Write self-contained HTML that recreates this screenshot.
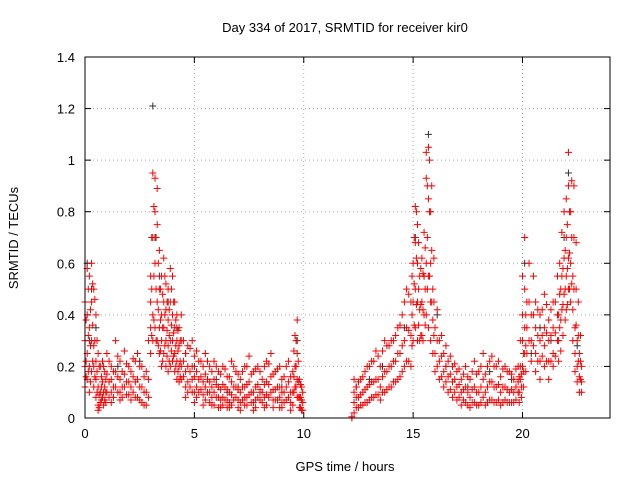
<!DOCTYPE html>
<html><head><meta charset="utf-8"><style>
body{margin:0;background:#fff;}
svg{display:block;font-family:"Liberation Sans",sans-serif;}
</style></head><body>
<svg id="chart" width="640" height="480">
<text x="345" y="32" font-size="13" text-anchor="middle">Day 334 of 2017, SRMTID for receiver kir0</text>
<text x="345" y="471" font-size="13" text-anchor="middle">GPS time / hours</text>
<text x="18" y="238" font-size="13" text-anchor="middle" transform="rotate(-90 18 238)">SRMTID / TECUs</text>
<g id="grid"></g><g id="ticks"></g><g id="black"></g><g id="red"></g>
<rect x="85" y="57" width="525" height="361" fill="none" stroke="#000"/>
</svg>
<script>
const xTicks=[0,5,10,15,20];
const yTicks=[0,0.2,0.4,0.6,0.8,1,1.2,1.4];
const yTickLabels=["0","0.2","0.4","0.6","0.8","1","1.2","1.4"];
const redT=[0,0.1,0.2,0.3,0.4,0.5,0.6,0.7,0.8,0.9,1.0,1.2,1.4,1.6,1.8,2.0,2.2,2.4,2.6,2.8,2.9,3.0,3.1,3.2,3.3,3.4,3.5,3.6,3.7,3.8,3.9,4.0,4.1,4.2,4.3,4.4,4.5,4.7,4.9,5.1,5.3,5.5,5.7,5.9,6.1,6.3,6.5,6.7,6.9,7.1,7.3,7.5,7.7,7.9,8.1,8.3,8.5,8.7,8.9,9.1,9.3,9.5,9.6,9.7,9.8,9.9,12.2,12.3,12.5,12.7,12.9,13.1,13.3,13.5,13.7,13.9,14.1,14.3,14.5,14.7,14.9,15.0,15.1,15.2,15.3,15.4,15.5,15.6,15.7,15.8,15.9,16.0,16.2,16.4,16.6,16.8,17.0,17.2,17.4,17.6,17.8,18.0,18.2,18.4,18.6,18.8,19.0,19.2,19.4,19.6,19.8,19.9,20.0,20.1,20.2,20.4,20.6,20.8,21.0,21.2,21.4,21.6,21.7,21.8,21.9,22.0,22.1,22.2,22.3,22.4,22.5,22.6,22.7];
const redV=[[.45,.3,.2,.12],[.58,.4,.25,.15],[.55,.35,.2,.1],[.6,.45,.3,.18],[.5,.28,.2,.12],[.4,.22,.15,.08],[.25,.12,.05,.03],[.2,.1,.06],[.22,.14,.08],[.18,.12,.07],[.25,.17,.1],[.2,.15,.1,.06],[.3,.18,.12],[.22,.15,.1,.07],[.26,.17,.12],[.2,.14,.09],[.23,.16,.1],[.25,.15,.08],[.2,.12,.06],[.18,.1,.05],[.3,.15,.08],[.55,.45,.35,.25],[.95,.7,.4,.3],[.93,.8,.6,.35],[.89,.75,.45,.3],[.65,.5,.35,.25],[.55,.4,.3,.2],[.62,.45,.35,.25],[.52,.42,.3,.2],[.5,.38,.28,.18],[.58,.45,.3,.2],[.55,.4,.3,.22],[.45,.35,.25,.18],[.4,.3,.22,.15],[.35,.28,.2,.14],[.4,.3,.2,.15],[.3,.22,.16],[.28,.2,.14,.1],[.3,.2,.15,.1],[.26,.18,.12,.08],[.22,.16,.11],[.25,.17,.12,.07],[.2,.14,.1,.06],[.22,.15,.1,.05],[.18,.12,.08,.04],[.2,.13,.08,.05],[.16,.11,.07,.04],[.22,.14,.09,.05],[.18,.12,.08],[.15,.1,.06,.03],[.2,.12,.08,.05],[.24,.14,.09],[.18,.1,.06,.03],[.2,.13,.08],[.15,.1,.06],[.22,.14,.09,.05],[.25,.16,.1],[.18,.11,.07],[.2,.12,.08,.04],[.16,.1,.06],[.22,.14,.08],[.18,.1,.05],[.32,.2,.12],[.38,.25,.15,.08],[.15,.08,.04],[.12,.07,.03],[0,0.005],[.15,.1,.06,.02],[.14,.08,.04],[.16,.1,.05],[.2,.12,.06],[.22,.14,.08],[.26,.15,.09],[.2,.12,.07],[.3,.18,.1],[.28,.2,.12],[.3,.22,.14],[.35,.25,.15],[.4,.28,.18],[.5,.35,.22],[.45,.32,.2],[.6,.45,.3],[.82,.68,.5,.35],[.75,.6,.45,.3],[.55,.42,.3],[.62,.45,.32],[.72,.55,.4],[1.03,.93,.6,.4],[1.05,.85,.55,.35],[.8,.6,.45,.3],[.5,.38,.25],[.35,.25,.18],[.3,.22,.15],[.25,.18,.12],[.22,.16,.1],[.2,.14,.08],[.18,.12,.07],[.15,.1,.05],[.2,.12,.06],[.15,.08,.04],[.22,.12,.06],[.18,.1,.05],[.25,.15,.08],[.2,.12,.06],[.24,.14,.07],[.2,.12,.06],[.16,.1,.05],[.2,.12,.07],[.18,.1,.06],[.15,.1,.06],[.2,.14,.1],[.3,.2,.15],[.55,.4,.3,.2],[.7,.5,.35,.25],[.45,.35,.25],[.4,.3,.22],[.45,.35,.25,.18],[.4,.3,.22,.15],[.48,.35,.28,.2],[.38,.3,.22,.15],[.45,.35,.25,.2],[.55,.4,.3],[.6,.48,.35],[.72,.55,.42],[.8,.62,.48],[.85,.7,.55,.42],[1.03,.9,.62,.5],[.8,.6,.45],[.55,.42,.3],[.35,.25,.18],[.3,.2,.14],[.25,.16,.1],[.2,.14,.1]];
const redT2=[0.05,0.15,0.25,0.35,0.45,0.55,0.65,0.75,0.85,0.95,1.1,1.3,1.5,1.7,1.9,2.1,2.3,2.5,2.7,3.05,3.15,3.25,3.35,3.45,3.55,3.65,3.75,3.85,3.95,4.05,4.15,4.25,4.35,4.6,4.8,5.0,5.2,5.4,5.6,5.8,6.0,6.2,6.4,6.6,6.8,7.0,7.2,7.4,7.6,7.8,8.0,8.2,8.4,8.6,8.8,9.0,9.2,9.4,9.55,9.65,9.75,9.85,9.95,12.4,12.6,12.8,13.0,13.2,13.4,13.6,13.8,14.0,14.2,14.4,14.6,14.8,14.95,15.05,15.15,15.25,15.35,15.45,15.55,15.65,15.75,15.85,15.95,16.1,16.3,16.5,16.7,16.9,17.1,17.3,17.5,17.7,17.9,18.1,18.3,18.5,18.7,18.9,19.1,19.3,19.5,19.7,19.85,19.95,20.05,20.15,20.3,20.5,20.7,20.9,21.1,21.3,21.5,21.65,21.75,21.85,21.95,22.05,22.15,22.25,22.35,22.45,22.55,22.65];
const redV2=[[.38,.22,.16],[.5,.32,.18],[.42,.28,.14],[.52,.36,.22],[.46,.3,.16],[.3,.18,.1],[.2,.09,.04],[.16,.12,.07],[.2,.1,.05],[.15,.1,.06],[.22,.14,.08],[.18,.12,.08],[.24,.16,.1],[.18,.12,.08],[.21,.14,.09],[.18,.12,.07],[.22,.14,.08],[.2,.12,.07],[.16,.1,.05],[.7,.5,.32],[.82,.55,.38],[.7,.5,.3],[.6,.42,.28],[.5,.38,.26],[.48,.35,.22],[.55,.4,.28],[.45,.34,.24],[.42,.32,.22],[.5,.36,.26],[.45,.33,.24],[.38,.28,.2],[.34,.26,.18],[.3,.22,.16],[.25,.18,.12,.08],[.27,.18,.12],[.24,.16,.1,.06],[.22,.15,.1],[.2,.14,.09,.05],[.22,.15,.1],[.18,.12,.08,.05],[.2,.13,.08],[.17,.11,.07,.04],[.19,.12,.07],[.16,.1,.06,.04],[.2,.12,.07],[.17,.11,.07,.04],[.18,.12,.07],[.2,.13,.08,.05],[.17,.1,.06],[.19,.12,.07,.04],[.18,.11,.07],[.2,.13,.08,.04],[.21,.13,.08],[.17,.11,.07,.04],[.19,.12,.07],[.15,.1,.06,.04],[.2,.12,.07],[.16,.1,.06,.03],[.26,.16,.1],[.3,.2,.12],[.22,.14,.08],[.13,.08,.04],[.1,.06,.03],[.12,.08,.04],[.15,.09,.05],[.18,.11,.06],[.2,.13,.07],[.22,.14,.08],[.24,.15,.09],[.26,.16,.1],[.28,.18,.11],[.3,.2,.12],[.32,.22,.14],[.36,.25,.16],[.45,.3,.2],[.48,.34,.22],[.55,.4,.28],[.7,.52,.36],[.8,.62,.44],[.68,.5,.36],[.58,.44,.32],[.56,.42,.3],[.66,.5,.36],[.9,.7,.5],[1.0,.8,.55],[.9,.65,.45],[.62,.45,.32],[.42,.3,.2],[.32,.24,.16],[.28,.2,.14],[.24,.17,.11],[.21,.15,.1],[.19,.13,.08],[.17,.11,.07],[.16,.1,.05],[.18,.11,.06],[.17,.1,.05],[.2,.12,.06],[.17,.1,.05],[.22,.14,.07],[.2,.12,.06],[.22,.13,.07],[.19,.12,.06],[.18,.11,.06],[.17,.11,.06],[.19,.12,.07],[.16,.1,.06],[.17,.12,.08],[.25,.18,.12],[.4,.28,.18],[.6,.45,.3],[.55,.4,.28],[.42,.32,.22],[.42,.32,.24],[.44,.33,.22],[.42,.32,.22],[.45,.33,.24],[.4,.3,.22],[.5,.38,.26],[.58,.44,.32],[.65,.5,.38],[.75,.58,.44],[.8,.64,.5],[.92,.7,.52],[.9,.7,.5],[.68,.5,.36],[.45,.32,.22],[.32,.22,.15],[.27,.18,.12],[.22,.15,.1]];
const blackPts=[[0.1,.6],[0.3,.5],[0.5,.35],[1.5,.2],[2.5,.22],[3.1,1.21],[3.2,.7],[3.4,.55],[3.8,.45],[4.2,.35],[5.0,.2],[6.0,.15],[7.0,.12],[8.0,.1],[9.0,.12],[9.7,.3],[12.4,.12],[13.6,.2],[14.6,.35],[15.1,.7],[15.5,.55],[15.7,1.1],[16.1,.4],[17.5,.12],[18.5,.18],[19.5,.15],[20.1,.6],[20.8,.35],[21.3,.3],[21.9,.7],[22.1,.95],[22.5,.28],[0.2,.3],[4.6,.25],[6.5,.1],[13.0,.15],[16.5,.2],[20.4,.25]];
const svg=document.getElementById('chart');
const NS='http://www.w3.org/2000/svg';
const X0=85,X1=610,Y0=418,Y1=57;
const xs=t=>X0+t*(X1-X0)/24;
const ys=v=>Y0-v*(Y0-Y1)/1.4;
function mk(tag,attrs,parent){const e=document.createElementNS(NS,tag);for(const k in attrs)e.setAttribute(k,attrs[k]);parent.appendChild(e);return e;}
const grid=document.getElementById('grid'),ticks=document.getElementById('ticks');
xTicks.forEach(t=>{
  if(t>0){const g=mk('line',{x1:xs(t),x2:xs(t),y1:Y1,y2:Y0,stroke:'#aaa','stroke-dasharray':'1,3'},grid);
  
  }
  const tx=mk('text',{x:xs(t),y:Y0+20,'font-size':13,'text-anchor':'middle'},ticks);tx.textContent=t;
  
  
  mk('line',{x1:xs(t),x2:xs(t),y1:Y0,y2:Y0-6,stroke:'#000'},ticks);
  mk('line',{x1:xs(t),x2:xs(t),y1:Y1,y2:Y1+6,stroke:'#000'},ticks);
});
yTicks.forEach((v,i)=>{
  if(v>0&&v<1.4){const g=mk('line',{x1:X0,x2:X1,y1:ys(v),y2:ys(v),stroke:'#aaa','stroke-dasharray':'1,3'},grid);
  
  }
  const tx=mk('text',{x:X0-10,y:ys(v)+5,'font-size':13,'text-anchor':'end'},ticks);tx.textContent=yTickLabels[i];
  
  
  mk('line',{x1:X0,x2:X0+6,y1:ys(v),y2:ys(v),stroke:'#000'},ticks);
  mk('line',{x1:X1,x2:X1-6,y1:ys(v),y2:ys(v),stroke:'#000'},ticks);
});
function plus(g,t,v,c){const x=xs(t),y=ys(v);
  const p=mk('path',{d:`M${x-3.5},${y}h7M${x},${y-3.5}v7`,stroke:c,'stroke-width':1,fill:'none'},g);
  
  }
const bg=document.getElementById('black'),rg=document.getElementById('red');
blackPts.forEach(p=>plus(bg,p[0],p[1],'#333'));
redT.forEach((t,i)=>redV[i].forEach(v=>plus(rg,t,v,'#f00')));
redT2.forEach((t,i)=>redV2[i].forEach(v=>plus(rg,t,v,'#f00')));
</script>
</body></html>
